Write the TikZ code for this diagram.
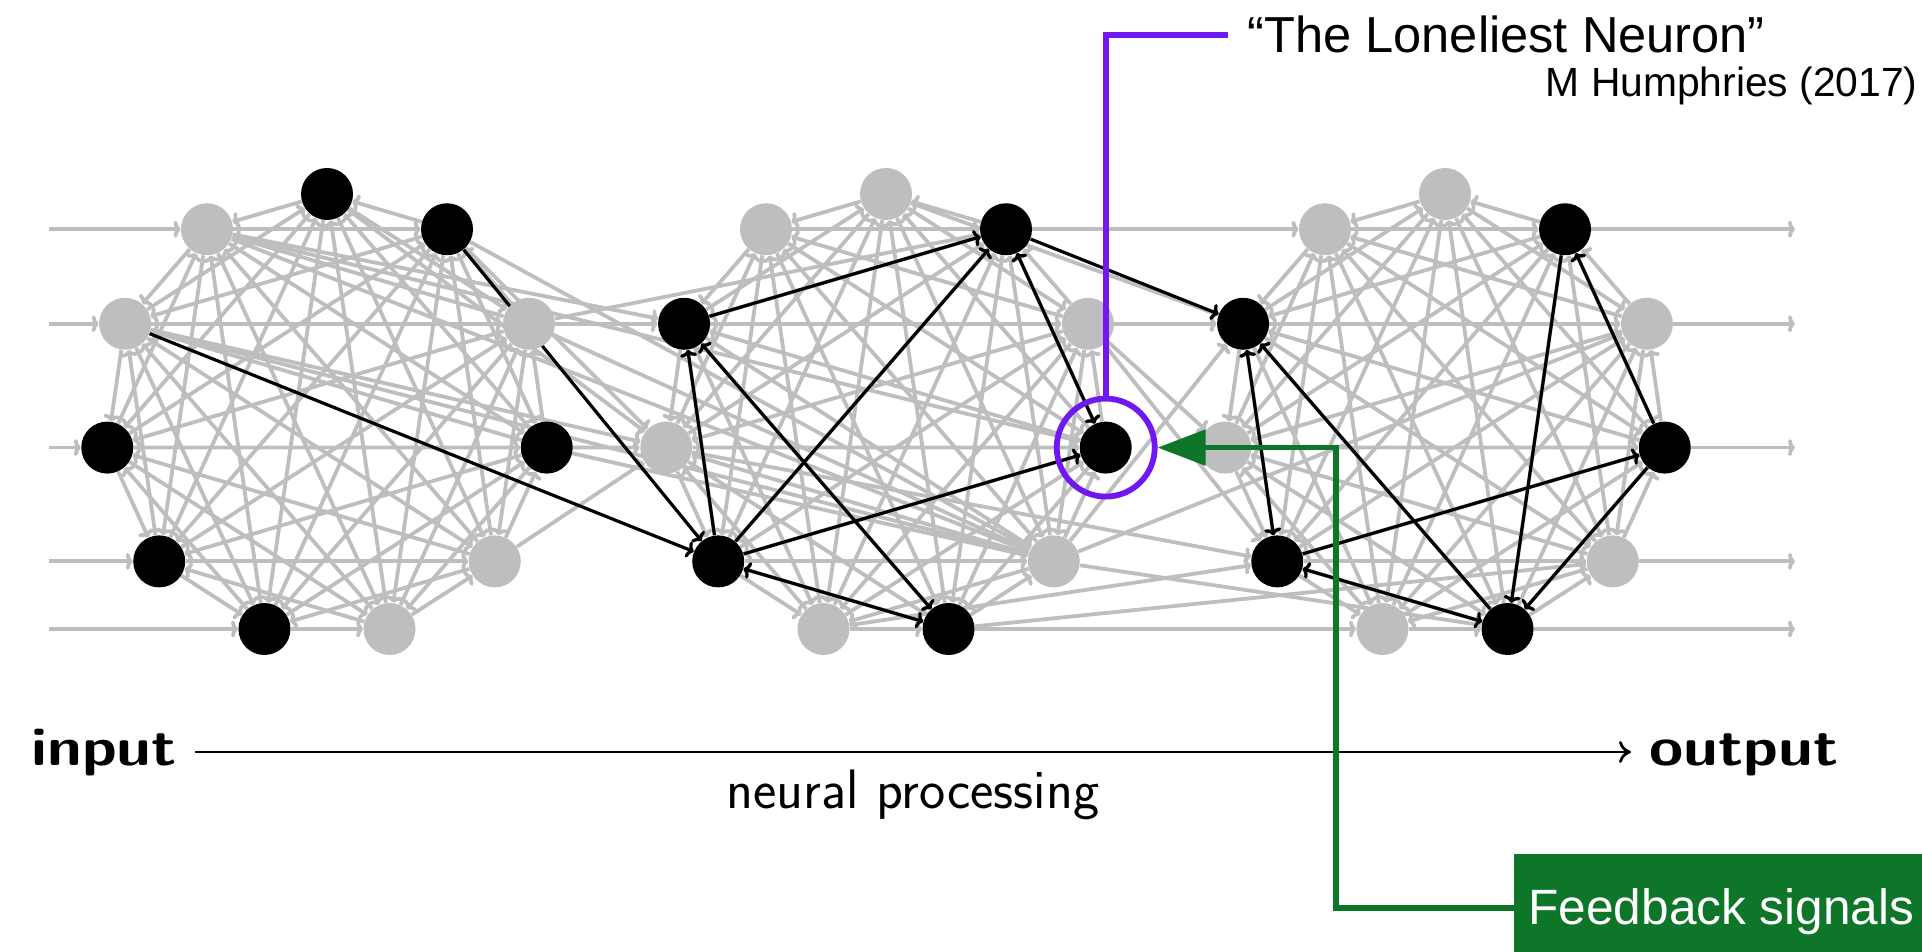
\documentclass[tikz,border=0pt]{standalone}
\usepackage{fontspec}
\newfontfamily\arialfont{Liberation Sans}
\usetikzlibrary{arrows.meta}
\definecolor{edgegray}{RGB}{190,190,190}
\definecolor{fbgreen}{RGB}{14,118,40}
\definecolor{lonely}{RGB}{112,24,240}
\pgfdeclarelayer{wires}
\pgfsetlayers{wires,main}

% one ring of eleven neurons: prefix, centre x, fill styles from the top clockwise
\newcommand\neuronring[3]{%
  \foreach \st [count=\k from 0] in {#3}
    \node[\st] (#1\k) at ({#2+222*cos(90-\k*360/11)}, {416-222*sin(90-\k*360/11)}) {};
}

\begin{document}
\begin{tikzpicture}[x=0.5pt, y=-0.5pt,
  neuron/.style={circle, minimum size=26pt, inner sep=0pt},
  fired/.style={neuron, fill=black},
  quiet/.style={neuron, fill=edgegray},
  tip/.style={-{To[length=3.5pt,width=8.5pt]}},
  gw/.style={draw=edgegray, line width=1.9pt, tip},
  bw/.style={draw=black, line width=1.6pt, tip},
  bwb/.style={draw=black, line width=1.6pt, {To[length=3.5pt,width=8.5pt]}-{To[length=3.5pt,width=8.5pt]}},
  sans/.style={font=\arialfont\fontsize{#1}{#1}\selectfont},
]
\useasboundingbox (0,0) rectangle (1922,952);

% the three populations
\neuronring{L}{327}{fired,fired,quiet,fired,quiet,quiet,fired,fired,fired,quiet,quiet}
\neuronring{M}{886}{quiet,fired,quiet,fired,quiet,fired,quiet,fired,quiet,fired,quiet}
\neuronring{R}{1445}{quiet,fired,quiet,fired,quiet,fired,quiet,fired,quiet,fired,quiet}

\coordinate (inx) at (49,0);
\coordinate (outx) at (1795,0);

\begin{pgfonlayer}{wires}
  % recurrent connections inside each population
  \foreach \p in {L,M,R}
    \foreach \i in {0,...,9}{
      \pgfmathtruncatemacro\nxt{\i+1}
      \foreach \j in {\nxt,...,10}{
        \pgfmathtruncatemacro\dirbit{mod(\i+\j,2)}
        \ifnum\dirbit=0 \draw[gw] (\p\i) -- (\p\j);
        \else \draw[gw] (\p\j) -- (\p\i); \fi
      }}
  % feed-forward connections between populations
  \foreach \a/\b in {L10/M9, L10/M4, L9/M4, L9/M8, L1/M8, L2/M1, L2/M4, L3/M8,
                     L3/M4, L4/M8, L2/M9, L0/M8, L1/M4, L10/M3,
                     M2/R9, M4/R2, M4/R5, M5/R4, M1/R10, M0/R9, M2/R8, M6/R7,
                     M5/R6, M4/R9, M2/R7, M8/R7}
    \draw[gw] (\a) -- (\b);
  % input and output lines
  \foreach \k in {10,9,8,7,6}
    \draw[gw] (L\k -| inx) -- (L\k);
  \foreach \k in {1,...,5}
    \draw[gw] (R\k) -- (R\k -| outx);
  % active pathway
  \draw[bw] (L9) -- (M7);
  \draw[bw] (L1) -- (M7);
  \draw[bw] (M9) -- (M1);
  \draw[bw] (M7) -- (M9);
  \draw[bwb] (M5) -- (M9);
  \draw[bwb] (M7) -- (M5);
  \draw[bw] (M7) -- (M1);
  \draw[bw] (M7) -- (M3);
  \draw[bwb] (M1) -- (M3);
  \draw[bw] (M1) -- (R9);
  \draw[bwb] (R9) -- (R7);
  \draw[bw] (R5) -- (R9);
  \draw[bwb] (R7) -- (R5);
  \draw[bw] (R7) -- (R3);
  \draw[bw] (R1) -- (R5);
  \draw[bw] (R3) -- (R1);
  \draw[bw] (R3) -- (R5);
\end{pgfonlayer}

% highlighted neuron and its label
\node[circle, draw=lonely, line width=2.9pt, minimum size=49pt, inner sep=0pt] (ring) at (M3) {};
\node[sans=25.3pt, anchor=base west, inner sep=0pt] (title) at (1247,53) {“The Loneliest Neuron”};
\node[sans=20.4pt, anchor=base east, inner sep=0pt] (cite) at (1918,97) {M Humphries (2017)};
\draw[lonely, line width=2.9pt] (ring.north) |- ([xshift=-9.5pt]title.west);

% processing axis
\node[font=\sffamily\bfseries\fontsize{27}{30}\selectfont, anchor=base west, inner sep=0pt] (inp) at (31,765) {\scalebox{1.15}[1]{input}};
\node[font=\sffamily\bfseries\fontsize{27}{30}\selectfont, anchor=base west, inner sep=0pt] (outp) at (1649,765) {\scalebox{1.15}[1]{output}};
\coordinate (ax) at (0,752);
\draw[line width=1.4pt, shorten <=9pt, shorten >=9pt, -{To[length=6pt,width=11pt]}] (inp.east |- ax) -- (outp.west |- ax);
\node[font=\sffamily\fontsize{27.8}{30}\selectfont, anchor=base, inner sep=0pt] (proc) at (913,808) {neural processing};

% feedback label
\node[fill=fbgreen, anchor=north west, minimum width=210pt, minimum height=60pt, inner sep=0pt] (fbbox) at (1514,854) {};
\node[sans=24.8pt, text=white, anchor=base west, inner sep=0pt] (fb) at (1528,924) {Feedback signals};
\coordinate (fbturn) at (1336,908);
\draw[fbgreen, line width=2.8pt, -{Triangle[length=24pt,width=17.5pt]}] (fbbox.west |- fbturn) -- (fbturn) |- (ring.east);
\end{tikzpicture}
\end{document}
